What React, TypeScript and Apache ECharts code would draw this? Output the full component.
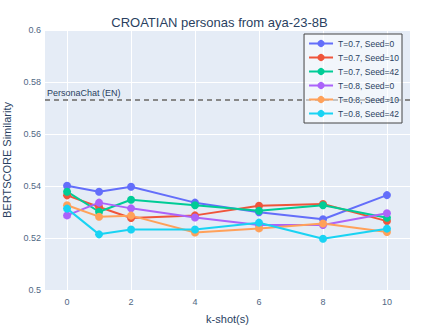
import React, { useEffect, useRef } from "react";
import * as echarts from "echarts";

const kShots = [0, 1, 2, 4, 6, 8, 10];
const seriesNames = [
  "T=0.7, Seed=0",
  "T=0.7, Seed=10",
  "T=0.7, Seed=42",
  "T=0.8, Seed=0",
  "T=0.8, Seed=10",
  "T=0.8, Seed=42",
];
const t07s0 = [0.5401, 0.5378, 0.5397, 0.5336, 0.5299, 0.5272, 0.5365];
const t07s10 = [0.5364, 0.5319, 0.5277, 0.5287, 0.5324, 0.5331, 0.5265];
const t07s42 = [0.5378, 0.5301, 0.5347, 0.5326, 0.5305, 0.5326, 0.5278];
const t08s0 = [0.5287, 0.5336, 0.5314, 0.5279, 0.525, 0.525, 0.5295];
const t08s10 = [0.5326, 0.5282, 0.5286, 0.5221, 0.5237, 0.5256, 0.5223];
const t08s42 = [0.5313, 0.5214, 0.5233, 0.5233, 0.5259, 0.5197, 0.5236];
const xTicks = [0, 2, 4, 6, 8, 10];
const baselineValue = 0.573;
const baselineLabel = "PersonaChat (EN)";
const colors = ["#636efa", "#EF553B", "#00cc96", "#ab63fa", "#FFA15A", "#19d3f3"];

export default function App() {
  const ref = useRef<HTMLDivElement>(null);
  useEffect(() => {
    if (!ref.current) return;
    const chart = echarts.init(ref.current, undefined, { renderer: "svg" });
    const all = [t07s0, t07s10, t07s42, t08s0, t08s10, t08s42];
    const font = "'Liberation Sans', Arial, sans-serif";
    const series: any[] = all.map((vals, i) => ({
      name: seriesNames[i],
      type: "line",
      data: kShots.map((k, j) => [k, vals[j]]),
      symbol: "circle",
      symbolSize: 8,
      lineStyle: { width: 2, color: colors[i] },
      itemStyle: { color: colors[i] },
      z: 3,
    }));
    series[0].markLine = {
      silent: true,
      symbol: "none",
      precision: 4,
      lineStyle: { type: [5, 4], color: "#888888", width: 2 },
      label: {
        show: true,
        position: "insideStartTop",
        formatter: baselineLabel,
        color: "#2a3f5f",
        fontSize: 9,
        fontFamily: font,
        distance: [2, 3],
      },
      data: [{ yAxis: baselineValue }],
      z: 1,
    };
    chart.setOption({
      animation: false,
      backgroundColor: "#fff",
      color: colors,
      textStyle: { fontFamily: font },
      title: {
        text: "CROATIAN personas from aya-23-8B",
        left: "center",
        top: 11,
        textStyle: { fontSize: 13, fontWeight: "normal", color: "#2a3f5f", fontFamily: font },
      },
      grid: { left: 45, right: 29, top: 30, bottom: 39, containLabel: false, outerBoundsMode: "none" },
      legend: {
        orient: "vertical",
        right: 37,
        top: 34,
        padding: [5, 3, 5, 4],
        itemWidth: 24,
        itemHeight: 9,
        itemGap: 5,
        backgroundColor: "rgba(255,255,255,0.5)",
        borderColor: "#444",
        borderWidth: 1,
        textStyle: { fontSize: 8.5, color: "#2a3f5f", fontFamily: font },
        data: seriesNames,
      },
      xAxis: {
        type: "value",
        min: -0.69,
        max: 10.72,
        name: "k-shot(s)",
        nameLocation: "middle",
        nameGap: 23,
        nameTextStyle: { fontSize: 11, color: "#2a3f5f" },
        axisLine: { show: false },
        axisTick: { show: false, customValues: xTicks },
        axisLabel: { customValues: xTicks, fontSize: 9, color: "#506784", margin: 7 },
        splitLine: { show: true, lineStyle: { color: "#fff", width: 1 } },
      },
      yAxis: {
        type: "value",
        min: 0.5,
        max: 0.6,
        interval: 0.02,
        name: "BERTSCORE Similarity",
        nameLocation: "middle",
        nameGap: 31,
        nameTextStyle: { fontSize: 11, color: "#2a3f5f" },
        axisLine: { show: false },
        axisTick: { show: false },
        axisLabel: { fontSize: 9, color: "#506784", margin: 4 },
        splitLine: { show: true, lineStyle: { color: "#fff", width: 1 } },
      },
      graphic: [
        {
          type: "rect",
          shape: { x: 45, y: 30, width: 439 - 45 - 29, height: 329 - 30 - 39 },
          style: { fill: "#E5ECF6" },
          z: -10,
          silent: true,
        },
      ],
      series,
    });
    return () => chart.dispose();
  }, []);
  return <div ref={ref} style={{ width: 439, height: 329, position: "absolute", left: 0, top: 0 }} />;
}
